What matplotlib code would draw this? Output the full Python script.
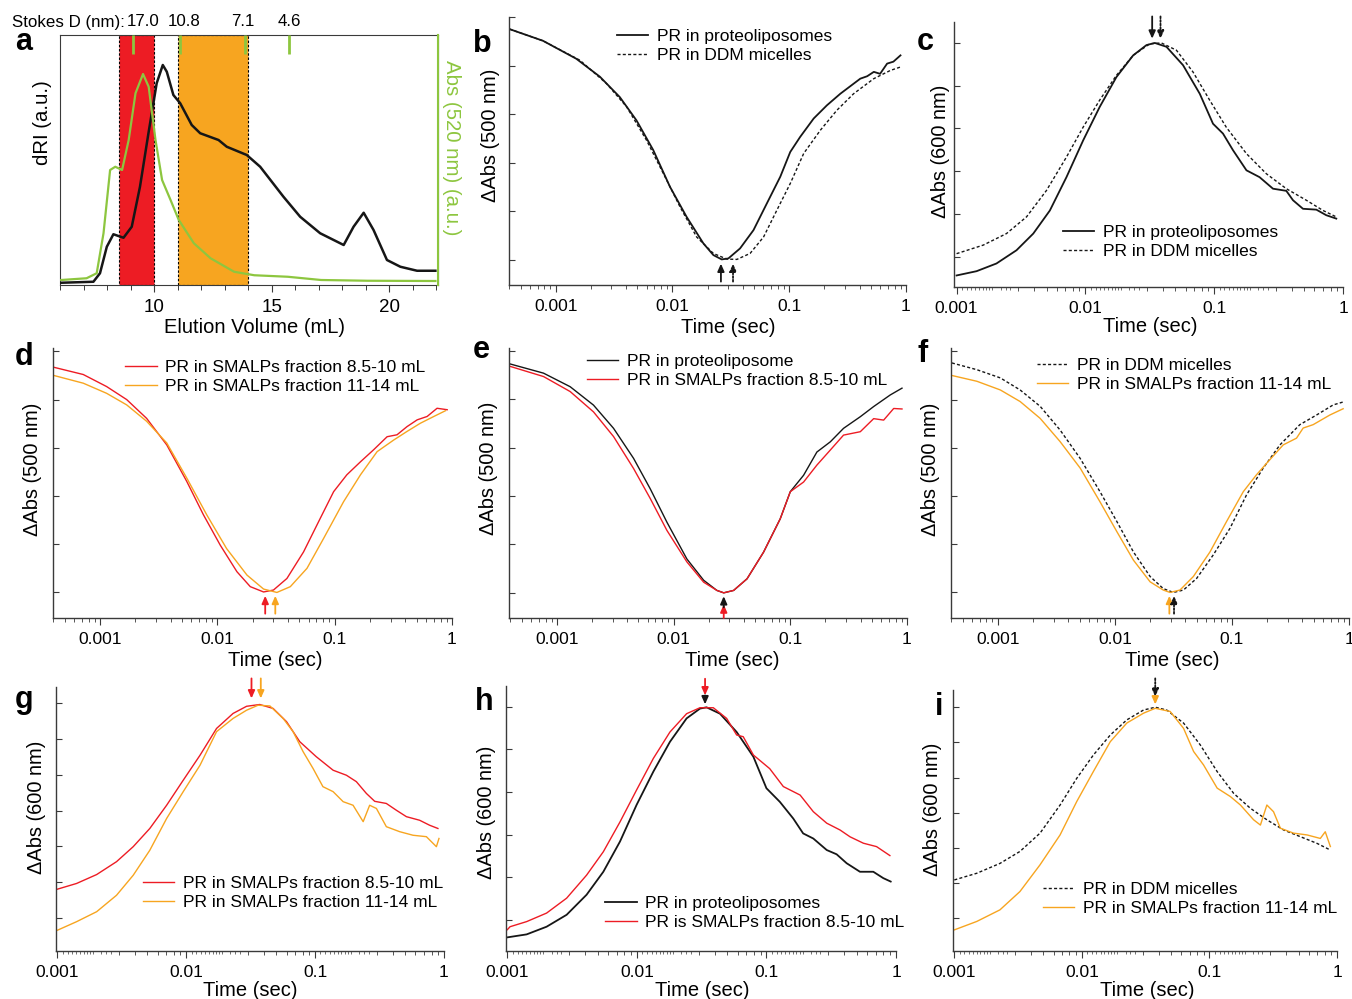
import matplotlib.pyplot as plt
import matplotlib.ticker as ticker
import numpy as np

plt.rcParams['font.family'] = ['Liberation Sans', 'DejaVu Sans']

W, H = 1352, 999
RED = '#ED1C24'
ORANGE = '#F7A520'
GREEN = '#8DC63F'
INK = '#161616'
AXC = '#3A3A3A'
DOT = (0, (2.2, 1.6))
FINE_SUBS = [1.1, 1.2, 1.3, 1.4, 1.5, 1.6, 1.7, 1.8, 1.9, 2.2, 2.4, 2.6]

# --- a: SEC of SMALP-solubilised PR (dRI and 520 nm absorbance, a.u.)
vol_dri = [6.05, 7.42, 7.70, 7.99, 8.27, 8.70, 9.05, 9.40, 9.76, 10.11, 10.37, 10.54,
           10.82, 11.11, 11.60, 11.96, 12.74, 13.09, 13.94, 14.51, 15.50, 16.21, 17.06,
           18.06, 18.48, 18.91, 19.33, 19.90, 20.47, 21.18, 21.96]
dri = [0.009, 0.013, 0.047, 0.153, 0.203, 0.189, 0.233, 0.393, 0.607, 0.807, 0.88, 0.853,
       0.76, 0.727, 0.64, 0.607, 0.58, 0.553, 0.52, 0.473, 0.353, 0.273, 0.207,
       0.16, 0.233, 0.289, 0.22, 0.10, 0.073, 0.057, 0.057]
vol_abs = [6.05, 7.13, 7.56, 7.85, 8.13, 8.35, 8.64, 8.92, 9.21, 9.53, 9.77, 10.06, 10.34,
           10.70, 11.05, 11.69, 12.40, 13.40, 14.26, 15.68, 17.10, 19.09, 21.96]
abs520 = [0.02, 0.027, 0.047, 0.207, 0.46, 0.473, 0.46, 0.58, 0.767, 0.844, 0.793, 0.58,
          0.42, 0.34, 0.26, 0.167, 0.107, 0.053, 0.039, 0.033, 0.02, 0.017, 0.016]
stokes_vol = [9.1, 11.1, 13.85, 15.75]
stokes_nm = ['17.0', '10.8', '7.1', '4.6']
frac_red = (8.5, 10.0)
frac_orange = (11.0, 14.0)

# --- b: 500 nm, proteoliposomes vs DDM
t_b1 = [4.03e-4, 7.78e-4, 1.50e-3, 2.39e-3, 3.54e-3, 4.92e-3, 6.84e-3, 9.53e-3, 0.0132,
        0.0184, 0.0224, 0.0264, 0.0301, 0.0379, 0.0494, 0.0643, 0.0838, 0.102, 0.124,
        0.162, 0.210, 0.274, 0.406, 0.465, 0.530, 0.600, 0.689, 0.780, 0.897]
a_b1 = [4.75, 4.51, 4.14, 3.77, 3.35, 2.87, 2.26, 1.50, 0.885, 0.336, 0.096, 0.007, 0.027,
        0.233, 0.61, 1.16, 1.71, 2.22, 2.53, 2.91, 3.18, 3.42, 3.73, 3.78, 3.87, 3.83,
        4.04, 4.08, 4.21]
t_b2 = [4.03e-4, 7.78e-4, 1.61e-3, 2.72e-3, 4.05e-3, 6.00e-3, 8.34e-3, 0.0116, 0.0161,
        0.0224, 0.0292, 0.0356, 0.0462, 0.0603, 0.0783, 0.102, 0.133, 0.185, 0.256,
        0.356, 0.530, 0.736, 0.897]
a_b2 = [4.75, 4.51, 4.11, 3.63, 3.15, 2.46, 1.78, 1.09, 0.47, 0.13, 0.014, 0.007, 0.13,
        0.47, 1.02, 1.57, 2.19, 2.67, 3.08, 3.42, 3.73, 3.90, 3.97]

# --- c: 600 nm, proteoliposomes vs DDM
t_c1 = [1.0e-3, 1.43e-3, 2.04e-3, 2.92e-3, 3.94e-3, 5.30e-3, 7.13e-3, 9.61e-3, 0.0129,
        0.0174, 0.0235, 0.0298, 0.0346, 0.0426, 0.0573, 0.0773, 0.0979, 0.117, 0.140,
        0.178, 0.225, 0.286, 0.363, 0.409, 0.489, 0.621, 0.741, 0.887]
a_c1 = [-0.44, -0.34, -0.16, 0.15, 0.54, 1.08, 1.86, 2.72, 3.50, 4.20, 4.71, 4.95, 5.0,
        4.91, 4.48, 3.81, 3.11, 2.88, 2.49, 2.02, 1.86, 1.59, 1.54, 1.32, 1.12, 1.10,
        0.97, 0.89]
t_c2 = [1.0e-3, 1.61e-3, 2.44e-3, 3.49e-3, 4.99e-3, 7.13e-3, 9.61e-3, 0.0129, 0.0174,
        0.0235, 0.0316, 0.0389, 0.0509, 0.0685, 0.0923, 0.124, 0.178, 0.254, 0.363,
        0.519, 0.700, 0.887]
a_c2 = [0.07, 0.27, 0.54, 0.93, 1.55, 2.33, 3.03, 3.66, 4.24, 4.71, 4.98, 5.0, 4.83,
        4.32, 3.66, 3.03, 2.41, 1.94, 1.59, 1.32, 1.08, 0.93]

# --- d: 500 nm, SMALP fractions
t_d1 = [4.05e-4, 7.21e-4, 1.14e-3, 1.69e-3, 2.50e-3, 3.71e-3, 5.50e-3, 7.62e-3, 0.0106,
        0.0147, 0.0191, 0.0248, 0.0301, 0.0392, 0.0543, 0.0755, 0.098, 0.127, 0.166,
        0.215, 0.280, 0.340, 0.414, 0.505, 0.614, 0.746, 0.910]
a_d1 = [4.67, 4.52, 4.27, 4.00, 3.61, 3.06, 2.30, 1.61, 0.98, 0.43, 0.12, 0.01, 0.05,
        0.29, 0.84, 1.54, 2.09, 2.44, 2.71, 2.96, 3.23, 3.27, 3.44, 3.58, 3.65, 3.82, 3.79]
t_d2 = [4.05e-4, 7.21e-4, 1.14e-3, 1.69e-3, 2.50e-3, 3.71e-3, 5.50e-3, 8.13e-3, 0.0120,
        0.0179, 0.0248, 0.0322, 0.0419, 0.0581, 0.0805, 0.119, 0.166, 0.230, 0.318,
        0.414, 0.538, 0.700, 0.881]
a_d2 = [4.50, 4.34, 4.13, 3.89, 3.55, 3.10, 2.37, 1.61, 0.91, 0.36, 0.07, 0.0, 0.12,
        0.50, 1.12, 1.88, 2.44, 2.92, 3.16, 3.34, 3.51, 3.65, 3.77]

# --- e: 500 nm, proteoliposome vs SMALPs 8.5-10 mL
t_e1 = [3.98e-4, 7.69e-4, 1.30e-3, 2.06e-3, 3.06e-3, 4.54e-3, 6.31e-3, 8.77e-3, 0.0130,
        0.0181, 0.0235, 0.0269, 0.0327, 0.0426, 0.0590, 0.0820, 0.100, 0.130, 0.169,
        0.220, 0.286, 0.398, 0.518, 0.719, 0.906]
a_e1 = [4.73, 4.54, 4.26, 3.88, 3.40, 2.78, 2.15, 1.46, 0.70, 0.26, 0.05, 0.0, 0.05,
        0.29, 0.84, 1.53, 2.09, 2.43, 2.91, 3.12, 3.40, 3.64, 3.85, 4.09, 4.23]
t_e2 = [3.98e-4, 7.69e-4, 1.30e-3, 2.06e-3, 3.06e-3, 4.54e-3, 6.31e-3, 8.77e-3, 0.0130,
        0.0181, 0.0235, 0.0269, 0.0327, 0.0426, 0.0590, 0.0820, 0.100, 0.130, 0.169,
        0.220, 0.286, 0.398, 0.518, 0.631, 0.769, 0.906]
a_e2 = [4.68, 4.47, 4.16, 3.74, 3.23, 2.57, 1.95, 1.29, 0.64, 0.22, 0.05, 0.0, 0.05,
        0.29, 0.84, 1.53, 2.09, 2.29, 2.64, 2.95, 3.26, 3.33, 3.60, 3.57, 3.81, 3.80]

# --- f: 500 nm, DDM vs SMALPs 11-14 mL
t_f1 = [4.05e-4, 6.62e-4, 1.05e-3, 1.55e-3, 2.30e-3, 3.40e-3, 5.05e-3, 7.46e-3, 0.0104,
        0.0144, 0.0200, 0.0259, 0.0316, 0.0385, 0.0499, 0.0693, 0.0962, 0.133, 0.185,
        0.257, 0.380, 0.528, 0.733, 0.920]
a_f1 = [4.76, 4.62, 4.45, 4.20, 3.86, 3.37, 2.78, 2.09, 1.47, 0.84, 0.33, 0.08, 0.0,
        0.05, 0.29, 0.78, 1.33, 2.02, 2.58, 3.06, 3.48, 3.68, 3.89, 3.96]
t_f2 = [4.05e-4, 6.62e-4, 1.05e-3, 1.55e-3, 2.30e-3, 3.40e-3, 5.05e-3, 7.46e-3, 0.0104,
        0.0144, 0.0200, 0.0259, 0.0296, 0.0360, 0.0468, 0.0649, 0.0899, 0.125, 0.162,
        0.198, 0.274, 0.356, 0.406, 0.494, 0.686, 0.891]
a_f2 = [4.50, 4.38, 4.20, 3.96, 3.61, 3.13, 2.58, 1.88, 1.26, 0.67, 0.22, 0.05, 0.0,
        0.05, 0.33, 0.84, 1.47, 2.09, 2.44, 2.68, 3.06, 3.20, 3.41, 3.48, 3.68, 3.81]

# --- g: 600 nm, SMALP fractions
t_g1 = [1.0e-3, 1.41e-3, 2.02e-3, 2.88e-3, 3.88e-3, 5.22e-3, 7.05e-3, 9.48e-3, 0.0128,
        0.0172, 0.0231, 0.0294, 0.0372, 0.0472, 0.0600, 0.0760, 0.102, 0.138, 0.175,
        0.209, 0.250, 0.290, 0.357, 0.427, 0.511, 0.647, 0.774, 0.897]
a_g1 = [0.80, 0.96, 1.21, 1.57, 1.99, 2.50, 3.15, 3.85, 4.55, 5.30, 5.72, 5.92, 5.97,
        5.86, 5.49, 4.93, 4.51, 4.13, 3.99, 3.81, 3.48, 3.26, 3.20, 3.01, 2.83, 2.73,
        2.59, 2.50]
t_g2 = [1.0e-3, 1.41e-3, 2.02e-3, 2.88e-3, 3.88e-3, 5.22e-3, 7.05e-3, 9.48e-3, 0.0128,
        0.0172, 0.0231, 0.0294, 0.0361, 0.0446, 0.0565, 0.0675, 0.0807, 0.0964, 0.115,
        0.138, 0.165, 0.197, 0.236, 0.265, 0.299, 0.357, 0.453, 0.575, 0.730, 0.873, 0.914]
a_g2 = [-0.35, -0.11, 0.17, 0.63, 1.19, 1.89, 2.78, 3.53, 4.27, 5.21, 5.58, 5.81, 5.95,
        5.93, 5.58, 5.21, 4.65, 4.18, 3.67, 3.53, 3.25, 3.15, 2.69, 3.15, 3.06, 2.55,
        2.41, 2.31, 2.27, 1.99, 2.22]

# --- h: 600 nm, proteoliposomes vs SMALPs 8.5-10 mL
t_h1 = [1.0e-3, 1.41e-3, 2.01e-3, 2.87e-3, 4.09e-3, 5.51e-3, 7.41e-3, 9.95e-3, 0.0134,
        0.0180, 0.0242, 0.0307, 0.0345, 0.0438, 0.0589, 0.0793, 0.100, 0.127, 0.161,
        0.192, 0.230, 0.292, 0.348, 0.416, 0.527, 0.668, 0.798, 0.910]
a_h1 = [-0.41, -0.34, -0.16, 0.12, 0.59, 1.13, 1.84, 2.70, 3.48, 4.18, 4.73, 4.96, 4.99,
        4.84, 4.41, 3.83, 3.09, 2.77, 2.38, 2.03, 1.91, 1.64, 1.54, 1.33, 1.13, 1.13,
        0.98, 0.90]
t_h2 = [1.0e-3, 1.05e-3, 1.41e-3, 2.01e-3, 2.87e-3, 4.09e-3, 5.51e-3, 7.41e-3, 9.95e-3,
        0.0134, 0.0180, 0.0242, 0.0307, 0.0389, 0.0493, 0.0589, 0.0662, 0.0793, 0.106,
        0.135, 0.182, 0.230, 0.292, 0.370, 0.442, 0.560, 0.708, 0.897]
a_h2 = [-0.23, -0.16, -0.04, 0.16, 0.51, 1.05, 1.60, 2.30, 3.05, 3.79, 4.41, 4.84, 4.98,
        4.98, 4.73, 4.34, 4.30, 3.87, 3.55, 3.13, 2.93, 2.54, 2.27, 2.11, 1.95, 1.80,
        1.72, 1.51]

# --- i: 600 nm, DDM vs SMALPs 11-14 mL
t_i1 = [1.0e-3, 1.50e-3, 2.28e-3, 3.27e-3, 4.70e-3, 6.75e-3, 9.12e-3, 0.0123, 0.0167,
        0.0225, 0.0304, 0.0376, 0.0463, 0.0627, 0.0847, 0.115, 0.155, 0.209, 0.282,
        0.382, 0.516, 0.697, 0.887]
a_i1 = [1.09, 1.28, 1.56, 1.90, 2.42, 3.22, 3.98, 4.64, 5.21, 5.64, 5.92, 6.0, 5.92,
        5.55, 4.93, 4.17, 3.55, 3.13, 2.80, 2.51, 2.32, 2.13, 1.94]
t_i2 = [1.0e-3, 1.50e-3, 2.28e-3, 3.27e-3, 4.70e-3, 6.75e-3, 9.12e-3, 0.0123, 0.0167,
        0.0225, 0.0304, 0.0376, 0.0492, 0.0627, 0.0752, 0.0899, 0.115, 0.146, 0.175,
        0.222, 0.251, 0.282, 0.318, 0.360, 0.457, 0.582, 0.740, 0.809, 0.887]
a_i2 = [-0.33, -0.09, 0.24, 0.76, 1.52, 2.37, 3.32, 4.17, 5.02, 5.55, 5.83, 5.97, 5.88,
        5.40, 4.74, 4.36, 3.70, 3.46, 3.22, 2.80, 2.65, 3.22, 3.03, 2.56, 2.42, 2.37,
        2.27, 2.46, 2.04]

fig = plt.figure(figsize=(W / 100, H / 100), dpi=100)


def box(l, t, r, b):
    return fig.add_axes([l / W, 1 - b / H, (r - l) / W, (b - t) / H])


def ftext(x, y, s, **kw):
    kw.setdefault('ha', 'center')
    kw.setdefault('va', 'center')
    return fig.text(x / W, 1 - y / H, s, **kw)


def kinetic_axes(l, t, r, b, xmin, ylo, yhi, ntick, fine=False):
    ax = box(l, t, r, b)
    ax.set_xscale('log')
    ax.set_xlim(xmin, 1)
    ax.set_ylim(ylo, yhi)
    for s in ('top', 'right'):
        ax.spines[s].set_visible(False)
    for s in ('left', 'bottom'):
        ax.spines[s].set_color(AXC)
        ax.spines[s].set_linewidth(1)
    ax.set_yticks(range(ntick + 1))
    ax.tick_params(axis='y', direction='in', length=4, width=0.8, color=AXC,
                   labelleft=False)
    ax.set_xticks([0.001, 0.01, 0.1, 1])
    ax.set_xticklabels(['0.001', '0.01', '0.1', '1'])
    subs = np.arange(3, 10) if fine else np.arange(2, 10)
    ax.xaxis.set_minor_locator(ticker.LogLocator(subs=subs, numticks=20))
    ax.xaxis.set_minor_formatter(ticker.NullFormatter())
    ax.tick_params(axis='x', which='major', direction='out', length=5, width=0.8,
                   color=AXC, labelsize=12.5, pad=5)
    ax.tick_params(axis='x', which='minor', direction='out', length=3, width=0.6,
                   color=AXC)
    if fine:
        # extra fine ticks at the low end of each decade
        sec = ax.secondary_xaxis('bottom')
        sec.set_xticks([s * 10.0 ** e for e in (-3, -2, -1) for s in FINE_SUBS])
        sec.xaxis.set_minor_locator(ticker.NullLocator())
        sec.tick_params(direction='out', length=2, width=0.5, color=AXC,
                        labelbottom=False)
        sec.spines['bottom'].set_visible(False)
    return ax


def legend(ax, x, y1, y2):
    ax.legend(loc='center left', bbox_to_anchor=(x / W, 1 - (y1 + y2) / 2 / H),
              bbox_transform=fig.transFigure, frameon=False, fontsize=12.5,
              handlelength=1.83, handletextpad=0.48, borderpad=0, borderaxespad=0,
              labelspacing=0.22)


def arrow(ax, t, tail, head, color, dotted=False):
    ax.annotate('', xy=(t, head), xytext=(t, tail),
                arrowprops=dict(arrowstyle='-|>,head_length=0.45,head_width=0.2',
                                color=color, lw=1.3, shrinkA=0, shrinkB=0,
                                linestyle=(0, (1, 1)) if dotted else '-'))


def labels(xl, yl, ylab_text='ΔAbs (500 nm)'):
    ftext(*xl, 'Time (sec)', fontsize=14.5)
    ftext(*yl, ylab_text, fontsize=14.4, rotation=90)


# ---------------- a
ax = box(60, 35, 438, 285)
ax.set_xlim(6, 22.07)
ax.set_ylim(0, 1)
ax.axvspan(*frac_red, facecolor=RED, edgecolor='k', lw=0.8, ls=DOT, zorder=1)
ax.axvspan(*frac_orange, facecolor=ORANGE, edgecolor='k', lw=0.8, ls=DOT, zorder=1)
ax.plot(vol_dri, dri, color=INK, lw=1.8, zorder=3)
ax.set_yticks([])
ax.xaxis.set_major_locator(ticker.MultipleLocator(5))
ax.xaxis.set_minor_locator(ticker.MultipleLocator(1))
ax.tick_params(axis='x', which='major', direction='out', length=5, width=0.8,
               color=AXC, labelsize=13.5, pad=5)
ax.tick_params(axis='x', which='minor', direction='out', length=3.5, width=0.7, color=AXC)
for s in ('left', 'bottom', 'top'):
    ax.spines[s].set_color(AXC)
ax2 = ax.twinx()
ax2.set_ylim(0, 1)
ax2.plot(vol_abs, abs520, color=GREEN, lw=1.6)
ax2.set_yticks([])
for s in ('left', 'bottom', 'top'):
    ax2.spines[s].set_visible(False)
ax2.spines['right'].set_color(GREEN)
ax2.spines['right'].set_linewidth(1.5)
ax3 = ax.twiny()
ax3.set_xlim(ax.get_xlim())
ax3.set_xticks(stokes_vol)
ax3.xaxis.set_minor_locator(ticker.NullLocator())
ax3.tick_params(axis='x', direction='in', length=14, width=2, color=GREEN,
                labeltop=False)
ax3.set_yticks([])
for s in ax3.spines.values():
    s.set_visible(False)
for lbl, x in zip(stokes_nm, [9.53, 11.28, 13.79, 15.75]):
    ax.text(x, 1.052, lbl, transform=ax.get_xaxis_transform(), ha='center',
            va='center', fontsize=12.2)
ftext(12, 22, 'Stokes D (nm):', ha='left', fontsize=12.2)
ftext(255, 327, 'Elution Volume (mL)', fontsize=14.5)
ftext(42, 123, 'dRI (a.u.)', fontsize=14.7, rotation=90)
ftext(452, 148, 'Abs (520 nm) (a.u.)', fontsize=14.7, rotation=270, color=GREEN)

# ---------------- b
ax = kinetic_axes(509, 17, 906, 285, 3.98e-4, -0.52, 5.0, 5)
ax.plot(t_b1, a_b1, color=INK, lw=1.3, label='PR in proteoliposomes')
ax.plot(t_b2, a_b2, color=INK, lw=1.0, ls=DOT, label='PR in DDM micelles')
arrow(ax, 0.026, -0.45, -0.08, INK)
arrow(ax, 0.033, -0.45, -0.08, INK, dotted=True)
legend(ax, 616.7, 35.7, 55.7)
labels((728, 328), (490, 135))

# ---------------- c
ax = kinetic_axes(954, 22, 1343, 287, 9.55e-4, -0.71, 5.49, 5, fine=True)
ax.plot(t_c1, a_c1, color=INK, lw=1.3, label='PR in proteoliposomes')
ax.plot(t_c2, a_c2, color=INK, lw=1.0, ls=DOT, label='PR in DDM micelles')
arrow(ax, 0.0330, 5.62, 5.10, INK)
arrow(ax, 0.0383, 5.62, 5.10, INK, dotted=True)
legend(ax, 1062.7, 232.3, 252.3)
labels((1150, 326), (940, 151), 'ΔAbs (600 nm)')

# ---------------- d
ax = kinetic_axes(53, 348, 452, 618, 3.98e-4, -0.53, 5.07, 5)
ax.plot(t_d1, a_d1, color=RED, lw=1.0, label='PR in SMALPs fraction 8.5-10 mL')
ax.plot(t_d2, a_d2, color=ORANGE, lw=1.0, label='PR in SMALPs fraction 11-14 mL')
arrow(ax, 0.0256, -0.44, -0.07, RED)
arrow(ax, 0.0312, -0.44, -0.07, ORANGE)
legend(ax, 125, 366.7, 386.7)
labels((275, 660), (32, 469))

# ---------------- e
ax = kinetic_axes(509, 348, 907, 618, 3.89e-4, -0.52, 5.06, 5)
ax.plot(t_e1, a_e1, color=INK, lw=1.0, label='PR in proteoliposome')
ax.plot(t_e2, a_e2, color=RED, lw=1.0, label='PR in SMALPs fraction 8.5-10 mL')
arrow(ax, 0.0269, -0.52, -0.24, RED)
arrow(ax, 0.0269, -0.30, -0.07, INK)
legend(ax, 586.7, 361, 380.7)
labels((732, 660), (488, 468))

# ---------------- f
ax = kinetic_axes(951, 348, 1349, 618, 3.98e-4, -0.53, 5.07, 5)
ax.plot(t_f1, a_f1, color=INK, lw=1.0, ls=DOT, label='PR in DDM micelles')
ax.plot(t_f2, a_f2, color=ORANGE, lw=1.0, label='PR in SMALPs fraction 11-14 mL')
arrow(ax, 0.0292, -0.44, -0.07, ORANGE)
arrow(ax, 0.0320, -0.44, -0.07, INK, dotted=True)
legend(ax, 1036.7, 365, 384.3)
labels((1172, 660), (930, 469))

# ---------------- g
ax = kinetic_axes(56, 687, 444, 951, 9.77e-4, -0.93, 6.46, 6, fine=True)
ax.plot(t_g1, a_g1, color=RED, lw=1.0, label='PR in SMALPs fraction 8.5-10 mL')
ax.plot(t_g2, a_g2, color=ORANGE, lw=1.0, label='PR in SMALPs fraction 11-14 mL')
arrow(ax, 0.0321, 6.70, 6.14, RED)
arrow(ax, 0.0379, 6.70, 6.14, ORANGE)
legend(ax, 142.7, 883.3, 902.7)
labels((250, 990), (37, 807), 'ΔAbs (600 nm)')

# ---------------- h
ax = kinetic_axes(506, 686, 896, 951, 9.77e-4, -0.73, 5.49, 5, fine=True)
ax.plot(t_h1, a_h1, color=INK, lw=1.3, label='PR in proteoliposomes')
ax.plot(t_h2, a_h2, color=RED, lw=1.0, label='PR is SMALPs fraction 8.5-10 mL')
arrow(ax, 0.0336, 5.66, 5.27, RED)
arrow(ax, 0.0336, 5.27, 5.06, INK)
legend(ax, 605, 904, 922.3)
labels((702, 990), (486, 812), 'ΔAbs (600 nm)')

# ---------------- i
ax = kinetic_axes(953, 690, 1337, 951, 9.77e-4, -0.93, 6.49, 6, fine=True)
ax.plot(t_i1, a_i1, color=INK, lw=1.0, ls=DOT, label='PR in DDM micelles')
ax.plot(t_i2, a_i2, color=ORANGE, lw=1.0, label='PR in SMALPs fraction 11-14 mL')
arrow(ax, 0.0376, 6.82, 6.30, INK, dotted=True)
arrow(ax, 0.0376, 6.30, 6.08, ORANGE)
legend(ax, 1042.7, 889.3, 908.3)
labels((1147, 990), (933, 809), 'ΔAbs (600 nm)')

# panel letters
for letter, x, y in [('a', 15, 50), ('b', 473, 52), ('c', 917, 50),
                     ('d', 15, 365), ('e', 473, 358), ('f', 918, 362),
                     ('g', 15, 708), ('h', 475, 710), ('i', 935, 715)]:
    ftext(x, y, letter, ha='left', va='baseline', fontsize=22, fontweight='bold')

fig.savefig('out.png', dpi=100)
